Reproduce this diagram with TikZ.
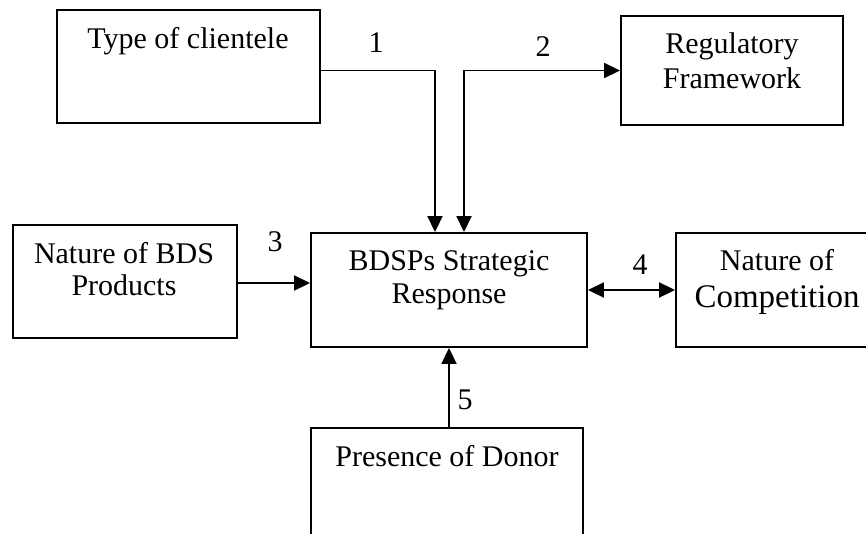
\documentclass[tikz,border=0pt]{standalone}
\usepackage{fontspec}
\setmainfont{Liberation Serif}
\usetikzlibrary{arrows.meta}
\begin{document}
\begin{tikzpicture}[x=1pt,y=-1pt,
  box/.style={draw, line width=1.9pt, inner sep=0pt, rectangle},
  txt/.style={anchor=base, inner sep=0pt, font=\fontsize{30}{36}\selectfont},
  bigtxt/.style={anchor=base, inner sep=0pt, font=\fontsize{33}{39}\selectfont},
  num/.style={inner sep=0pt, font=\fontsize{30}{36}\selectfont},
  conn/.style={line width=1.9pt, -{Triangle[length=16pt,width=15pt]}},
  biconn/.style={line width=1.9pt, {Triangle[length=16pt,width=15pt]}-{Triangle[length=16pt,width=15pt]}}]
\useasboundingbox (0,0) rectangle (866,533);
\clip (0,0) rectangle (866,533);

% boxes
\node[box, minimum width=263pt, minimum height=113pt] (type)  at (188.5,66.5) {};
\node[box, minimum width=222pt, minimum height=109pt] (reg)   at (732,70.5) {};
\node[box, minimum width=224pt, minimum height=113pt] (bds)   at (125,281.5) {};
\node[box, minimum width=276pt, minimum height=114pt] (resp)  at (449,290) {};
\node[box, minimum width=204pt, minimum height=114pt] (comp)  at (778,290) {};
\node[box, minimum width=272pt, minimum height=132pt] (donor) at (447,494) {};

% box texts
\node[txt] (typet) at (188,48) {Type of clientele};
\node[txt] (regt1) at (732,53) {Regulatory};
\node[txt] (regt2) at (732,88) {Framework};
\node[txt] (bdst1) at (124,263) {Nature of BDS};
\node[txt] (bdst2) at (124,295) {Products};
\node[txt] (respt1) at (449,270) {BDSPs Strategic};
\node[txt] (respt2) at (449,303) {Response};
\node[txt] (compt1) at (777,270) {Nature of};
\node[bigtxt] (compt2) at (777,307) {Competition};
\node[txt] (donort) at (447,466) {Presence of Donor};

% connector numbers
\node[num] (n1) at (376,43) {1};
\node[num] (n2) at (543,47) {2};
\node[num] (n3) at (275,242) {3};
\node[num] (n4) at (640,265) {4};
\node[num] (n5) at (465,400) {5};

% connectors
\coordinate (in1) at ([xshift=-14pt]resp.north);
\coordinate (in2) at ([xshift=15pt]resp.north);
\draw[conn] (type.east |- reg.west) -| (in1);
\draw[biconn] (in2) |- (reg.west);
\draw[conn] (bds.east |- 0,283) -- (resp.west |- 0,283);
\draw[biconn] (resp.east) -- (comp.west);
\draw[conn] (resp.south |- donor.north) -- (resp.south);
\end{tikzpicture}
\end{document}
